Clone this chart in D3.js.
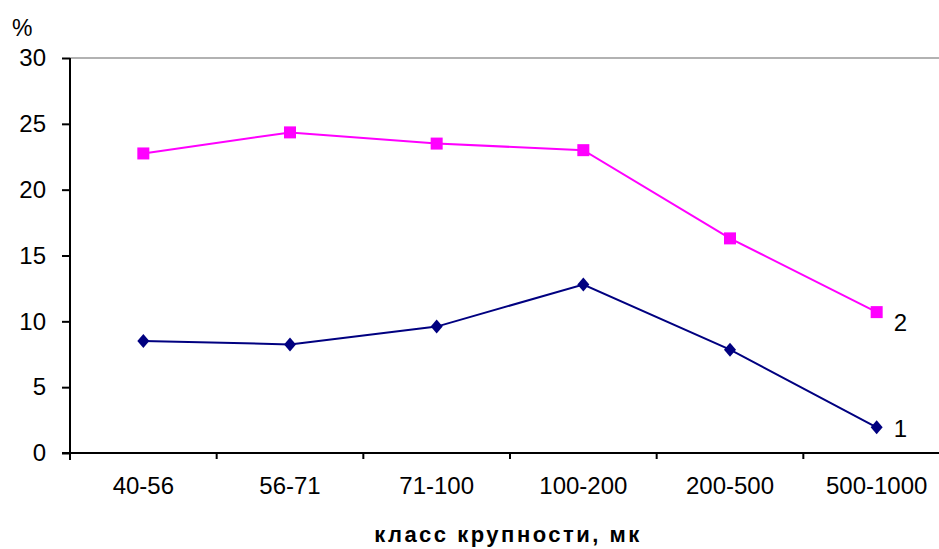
<!DOCTYPE html>
<html><head><meta charset="utf-8">
<script src="https://cdn.jsdelivr.net/npm/d3@7"></script>
<style>
body{margin:0;background:#fff;}
svg text{font-family:"Liberation Sans",Arial,sans-serif;}
</style></head>
<body><svg id="c" width="939" height="549"></svg>
<script>
const categories = ["40-56","56-71","71-100","100-200","200-500","500-1000"];
const series1 = [8.5, 8.25, 9.6, 12.8, 7.85, 1.95];
const series2 = [22.75, 24.35, 23.5, 23.0, 16.3, 10.7];
const yTicks = [0,5,10,15,20,25,30];
const seriesLabels = ["1","2"];
const xTitle = "класс крупности, мк";
const yTitle = "%";

const svg = d3.select("#c");
const x = d3.scaleBand().domain(categories).range([70, 950]).padding(0);
const y = d3.scaleLinear().domain([0, 30]).range([453, 58]);
const cx = d => x(d) + x.bandwidth()/2;

// top border
svg.append("line").attr("x1",70).attr("x2",939).attr("y1",y(30)).attr("y2",y(30))
  .attr("stroke","#999").attr("stroke-width",1.5);

// y axis
const ya = svg.append("g").attr("transform","translate(70,0)")
  .call(d3.axisLeft(y).tickValues(yTicks).tickSize(8).tickPadding(16));
ya.select(".domain").attr("stroke","#000").attr("stroke-width",2).attr("d","M0,"+y(30)+"V"+(y(0)+7));
ya.selectAll(".tick line").attr("stroke","#000").attr("stroke-width",2);
ya.selectAll("text").attr("font-size",24).attr("fill","#000");

// x axis
const xa = svg.append("g").attr("transform","translate(0,"+y(0)+")");
xa.append("line").attr("x1",62).attr("x2",950).attr("stroke","#000").attr("stroke-width",2);
categories.slice(1).forEach(c => {
  xa.append("line").attr("x1",x(c)).attr("x2",x(c)).attr("y1",0).attr("y2",6)
    .attr("stroke","#000").attr("stroke-width",2);
});
xa.selectAll("text.cat").data(categories).join("text").attr("class","cat")
  .attr("x", d => cx(d)).attr("y", 41).attr("text-anchor","middle")
  .attr("font-size",24).attr("fill","#000").text(d => d);

// lines
const line = d3.line().x((d,i) => cx(categories[i])).y(d => y(d));
svg.append("path").datum(series2).attr("d",line).attr("fill","none")
  .attr("stroke","#ff00ff").attr("stroke-width",2);
svg.append("path").datum(series1).attr("d",line).attr("fill","none")
  .attr("stroke","#000080").attr("stroke-width",2);

// markers
svg.selectAll("rect.m2").data(series2).join("rect").attr("class","m2")
  .attr("x",(d,i)=>cx(categories[i])-6).attr("y",d=>y(d)-6)
  .attr("width",12).attr("height",12).attr("fill","#ff00ff");
svg.selectAll("path.m1").data(series1).join("path").attr("class","m1")
  .attr("transform",(d,i)=>"translate("+cx(categories[i])+","+y(d)+")")
  .attr("d","M0,-7L6,0L0,7L-6,0Z").attr("fill","#000080");

// series labels
svg.append("text").attr("x",cx(categories[5])+17).attr("y",y(series1[5])+10)
  .attr("font-size",24).attr("fill","#000").text(seriesLabels[0]);
svg.append("text").attr("x",cx(categories[5])+17).attr("y",y(series2[5])+19)
  .attr("font-size",24).attr("fill","#000").text(seriesLabels[1]);

// titles
svg.append("text").attr("x",12).attr("y",36).attr("font-size",23).attr("fill","#000").text(yTitle);
svg.append("text").attr("x",508).attr("y",542).attr("text-anchor","middle")
  .attr("font-size",22).attr("font-weight","bold").attr("letter-spacing",2.5)
  .attr("fill","#000").text(xTitle);
</script></body></html>
